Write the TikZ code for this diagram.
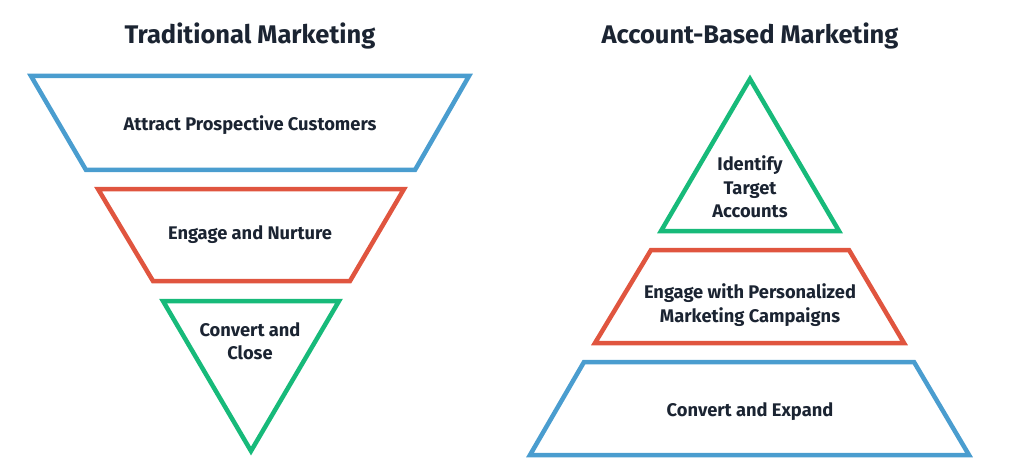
\documentclass[tikz,border=0pt]{standalone}
\usepackage{fontspec}
\setmainfont{Fira Sans}
\definecolor{fblue}{HTML}{4A9DCF}
\definecolor{fred}{HTML}{E0553F}
\definecolor{fgreen}{HTML}{17BA7A}
\definecolor{ftext}{HTML}{1B2432}
\begin{document}
\begin{tikzpicture}[x=1pt,y=-1pt,
  shapeline/.style={line width=4.5pt, line join=miter},
  title/.style={text=ftext, font=\fontsize{25.5}{30}\selectfont\bfseries, anchor=center},
  label/.style={text=ftext, font=\fontsize{18.3}{23.5}\selectfont\bfseries, align=center, anchor=center}]
\useasboundingbox (0,0) rectangle (1024,465);
% titles
\node[title] (t1) at (250,36) {Traditional Marketing};
\node[title] (t2) at (750,36) {Account-Based Marketing};
% traditional funnel
\draw[shapeline, fblue] (31,76) -- (469,76) -- (415,170) -- (86,170) -- cycle;
\draw[shapeline, fred] (98,189) -- (404,189) -- (350,281) -- (153,281) -- cycle;
\draw[shapeline, fgreen] (163,301) -- (339,301) -- (251,451) -- cycle;
\node[label] (a1) at (250,125) {Attract Prospective Customers};
\node[label] (a2) at (250,235) {Engage and Nurture};
\node[label] (a3) at (250,341) {Convert and\\Close};
% ABM pyramid
\draw[shapeline, fgreen] (750,79) -- (839,231) -- (661,231) -- cycle;
\draw[shapeline, fred] (651,250) -- (849,250) -- (904,343) -- (595,343) -- cycle;
\draw[shapeline, fblue] (584,362) -- (914,362) -- (969,455) -- (530,455) -- cycle;
\node[label] (b1) at (750,187) {Identify\\Target\\Accounts};
\node[label] (b2) at (750,305) {Engage with Personalized\\Marketing Campaigns};
\node[label] (b3) at (750,412) {Convert and Expand};
\end{tikzpicture}
\end{document}
